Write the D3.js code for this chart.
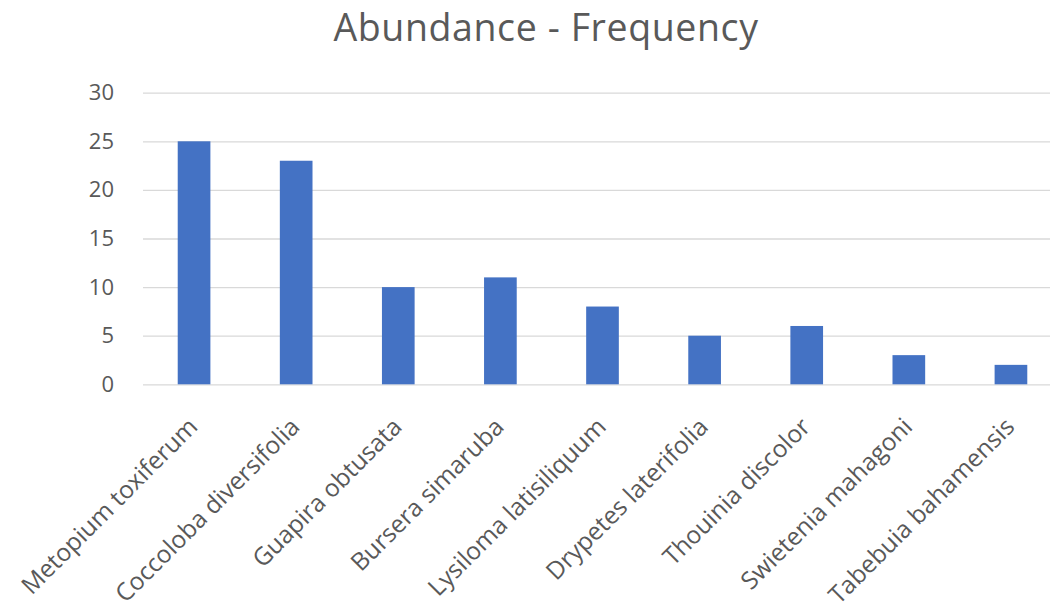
<!DOCTYPE html>
<html>
<head>
<meta charset="utf-8">
<script src="https://cdn.jsdelivr.net/npm/d3@7"></script>
<style>
  html, body { margin: 0; padding: 0; background: #ffffff; }
  svg { display: block; }
  text { font-family: "Open Sans", "Noto Sans", sans-serif; fill: #595959; }
</style>
</head>
<body>
<svg id="chart" width="1050" height="609"></svg>
<script>
// Species and their frequency counts
const species = [
  "Metopium toxiferum",
  "Coccoloba diversifolia",
  "Guapira obtusata",
  "Bursera simaruba",
  "Lysiloma latisiliquum",
  "Drypetes laterifolia",
  "Thouinia discolor",
  "Swietenia mahagoni",
  "Tabebuia bahamensis"
];
const frequency = [25, 23, 10, 11, 8, 5, 6, 3, 2];
const yTicks = [0, 5, 10, 15, 20, 25, 30];

const svg = d3.select("#chart");
const plot = { left: 143, right: 1062, top: 92.7, bottom: 384.3 };

const x = d3.scaleBand()
  .domain(species)
  .range([plot.left, plot.right])
  .paddingInner(0.68)
  .paddingOuter(0.34);

const y = d3.scaleLinear()
  .domain([0, 30])
  .range([plot.bottom, plot.top]);

// Title
svg.append("text")
  .attr("x", 546)
  .attr("y", 41)
  .attr("text-anchor", "middle")
  .style("font-size", "37.5px")
  .style("letter-spacing", "0.6px")
  .text("Abundance - Frequency");

// Horizontal gridlines
const gridG = svg.append("g")
  .attr("transform", `translate(${plot.left},0)`)
  .call(d3.axisLeft(y).tickValues(yTicks).tickSize(-(plot.right - plot.left)).tickFormat(""));
gridG.select(".domain").remove();
gridG.selectAll(".tick line").attr("stroke", "#d9d9d9").attr("stroke-width", 1.3);

// Y tick labels
const yAxis = svg.append("g")
  .attr("transform", `translate(${plot.left - 29},0)`)
  .call(d3.axisLeft(y).tickValues(yTicks).tickSize(0).tickPadding(0));
yAxis.select(".domain").remove();
yAxis.selectAll("text")
  .style("font-size", "22px")
  .attr("fill", "#595959");

// Bars
svg.append("g")
  .selectAll("rect")
  .data(species)
  .join("rect")
  .attr("x", d => x(d))
  .attr("width", x.bandwidth())
  .attr("y", (d, i) => y(frequency[i]))
  .attr("height", (d, i) => y(0) - y(frequency[i]))
  .attr("fill", "#4472c4");

// Rotated category labels
const xAxis = svg.append("g")
  .attr("transform", `translate(0,${plot.bottom})`)
  .call(d3.axisBottom(x).tickSize(0).tickPadding(0));
xAxis.select(".domain").remove();
xAxis.selectAll("text")
  .style("font-size", "24.5px")
  .attr("fill", "#595959")
  .attr("text-anchor", "end")
  .attr("dy", null)
  .attr("transform", "translate(5,44) rotate(-45)");
</script>
</body>
</html>
